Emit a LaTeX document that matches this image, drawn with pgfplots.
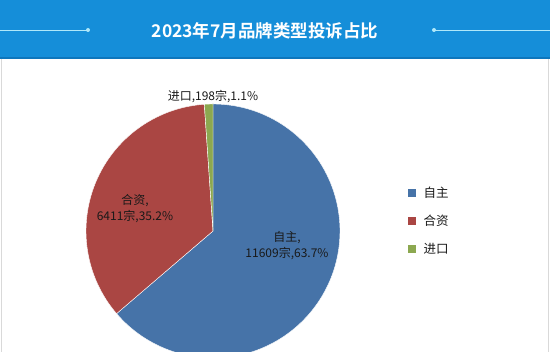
\documentclass[border=0pt]{standalone}
\usepackage{pgfplots}
\pgfplotsset{compat=1.18}
\usepackage{pgfplotstable}
\usepackage{fontspec}
\setmainfont{Liberation Sans}
\newfontfamily\cjk[BoldFont={Noto Sans CJK SC Bold}]{Noto Sans CJK SC}
\definecolor{banner}{RGB}{21,142,217}
\definecolor{bannerline}{RGB}{14,118,188}
\definecolor{deco}{RGB}{175,232,250}
\definecolor{cA}{RGB}{70,115,168}
\definecolor{cB}{RGB}{170,70,67}
\definecolor{cC}{RGB}{140,168,80}
\definecolor{lbl}{RGB}{25,25,25}
\pgfplotstableread{
name count
zizhu 11609
hezi 6411
jinkou 198
}\datatable
\begin{document}
\begin{tikzpicture}
\pgfplotstablegetelem{0}{count}\of\datatable \let\vA\pgfplotsretval
\pgfplotstablegetelem{1}{count}\of\datatable \let\vB\pgfplotsretval
\pgfplotstablegetelem{2}{count}\of\datatable \let\vC\pgfplotsretval
\pgfmathsetmacro\tot{\vA/1000+\vB/1000+\vC/1000}
\pgfmathsetmacro\aA{360*(\vA/1000)/\tot}
\pgfmathsetmacro\aB{\aA+360*(\vB/1000)/\tot}
\begin{axis}[
  at={(0,0)}, anchor=south west,
  scale only axis, width=550pt, height=352pt,
  xmin=0, xmax=550, ymin=-352, ymax=0,
  hide axis,
  legend style={at={(0.736,0.479)}, anchor=north west, draw=none, fill=none,
    font=\cjk\fontsize{12.5}{15}\selectfont, row sep=13pt,
    nodes={inner sep=1.5pt, text=lbl}},
  legend cell align=left,
  legend image code/.code={\fill[#1,draw=none] (0pt,-4pt) rectangle (8.5pt,4.5pt); \path (14pt,0pt);},
]
\fill[white] (axis cs:0,0) rectangle (axis cs:550,-352);
\fill[banner] (axis cs:0,0) rectangle (axis cs:550,-58);
\draw[bannerline, line width=1.5pt] (axis cs:0,-58) -- (axis cs:550,-58);
\draw[deco, line width=0.8pt] (axis cs:0,-30) -- (axis cs:88,-30);
\fill[deco] (axis cs:88,-30) circle (2pt);
\draw[deco, line width=0.8pt] (axis cs:434,-30) -- (axis cs:550,-30);
\fill[deco] (axis cs:434,-30) circle (2pt);
\node[white, font=\cjk\bfseries\fontsize{17.5}{20}\selectfont] at (axis cs:265,-31) {2023年7月品牌类型投诉占比};
\draw[black!15] (axis cs:1.5,-59) -- (axis cs:1.5,-352);
\draw[black!15] (axis cs:548,-59) -- (axis cs:548,-352);

\addplot[fill=cA, draw=white, line width=0.4pt, domain=0:\aA, samples=120]
  ({213+127*sin(x)},{-231+127*cos(x)}) -- (axis cs:213,-231) -- cycle;
\addlegendentry{自主}
\addplot[fill=cB, draw=white, line width=0.4pt, domain=\aA:\aB, samples=80]
  ({213+127*sin(x)},{-231+127*cos(x)}) -- (axis cs:213,-231) -- cycle;
\addlegendentry{合资}
\addplot[fill=cC, draw=white, line width=0.4pt, domain=\aB:360, samples=10]
  ({213+127*sin(x)},{-231+127*cos(x)}) -- (axis cs:213,-231) -- cycle;
\addlegendentry{进口}

\node[text=lbl, font=\cjk\fontsize{12}{16}\selectfont] at (axis cs:213,-97) {进口,198宗,1.1\%};
\node[text=lbl, align=center, font=\cjk\fontsize{12}{16}\selectfont] at (axis cs:135,-209) {合资,\\6411宗,35.2\%};
\node[text=lbl, align=center, font=\cjk\fontsize{12}{16}\selectfont] at (axis cs:287,-246) {自主,\\11609宗,63.7\%};
\end{axis}
\pgfresetboundingbox
\path[use as bounding box] (current axis.south west) rectangle (current axis.north east);
\end{tikzpicture}
\end{document}
